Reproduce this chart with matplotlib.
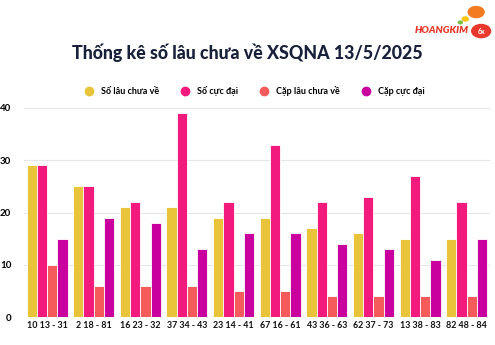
import numpy as np
import matplotlib.pyplot as plt
from matplotlib.patches import Circle

categories = ["10 13 - 31", "2 18 - 81", "16 23 - 32", "37 34 - 43", "23 14 - 41",
              "67 16 - 61", "43 36 - 63", "62 37 - 73", "13 38 - 83", "82 48 - 84"]
so_lau = [29, 25, 21, 21, 19, 19, 17, 16, 15, 15]
so_cuc_dai = [29, 25, 22, 39, 22, 33, 22, 23, 27, 22]
cap_lau = [10, 6, 6, 6, 5, 5, 4, 4, 4, 4]
cap_cuc_dai = [15, 19, 18, 13, 16, 16, 14, 13, 11, 15]

series = [
    ("Số lâu chưa về", so_lau, "#E9C43B"),
    ("Số cực đại", so_cuc_dai, "#F21A7C"),
    ("Cặp lâu chưa về", cap_lau, "#F55B5B"),
    ("Cặp cực đại", cap_cuc_dai, "#C9009E"),
]

plt.rcParams['font.family'] = ['Lato', 'DejaVu Sans']

fig = plt.figure(figsize=(4.95, 3.45), dpi=100)
ax = fig.add_axes([0.048, 0.081, 0.942, 0.606])

x = np.arange(len(categories))
w = 0.22
for i, (name, vals, col) in enumerate(series):
    ax.bar(x + (i - 1.5) * w, vals, w, color=col, edgecolor="white", linewidth=0.6,
           label=name, zorder=3)

ax.set_xlim(-0.5, len(categories) - 0.5)
ax.set_ylim(0, 40)
ax.set_yticks([0, 10, 20, 30, 40])
ax.grid(axis="y", color="#e6e6e6", linewidth=0.8, zorder=0)
ax.set_xticks(x)
ax.set_xticklabels(categories, fontsize=6.4, fontweight="bold", color="#111111")
ax.tick_params(axis="both", length=0, pad=3)
ax.tick_params(axis="y", labelsize=7, pad=9)
for lbl in ax.get_yticklabels():
    lbl.set_fontweight("bold")
for s in ax.spines.values():
    s.set_visible(False)

fig.text(0.5, 0.848, "Thống kê số lâu chưa về XSQNA 13/5/2025", ha="center", va="center",
         fontsize=12.8, fontweight="black", color="#19213a")

handles, labels = ax.get_legend_handles_labels()
markers = [plt.Line2D([], [], marker="o", ls="none", markersize=6, color=c) for _, _, c in series]
fig.legend(markers, labels, loc="center", bbox_to_anchor=(0.51, 0.737), ncol=4, frameon=False,
           prop={"size": 6.5, "weight": "bold"}, handletextpad=0.3, columnspacing=1.9)

# logo
fig.text(0.948, 0.912, "HOANGKIM", ha="right", va="center", fontsize=7.2, fontweight="heavy",
         style="italic", color="#e8392c")
fig.patches.append(Circle((0.972, 0.91), 0.019, transform=fig.transFigure, color="#e8392c"))
fig.text(0.972, 0.91, "6x", ha="center", va="center", fontsize=5, fontweight="bold", color="white")
fig.patches.append(Circle((0.962, 0.965), 0.016, transform=fig.transFigure, color="#f47b20"))
fig.patches.append(Circle((0.94, 0.945), 0.006, transform=fig.transFigure, color="#f5c518"))
fig.patches.append(Circle((0.93, 0.935), 0.004, transform=fig.transFigure, color="#7cc242"))

fig.savefig("out.png", dpi=100)
